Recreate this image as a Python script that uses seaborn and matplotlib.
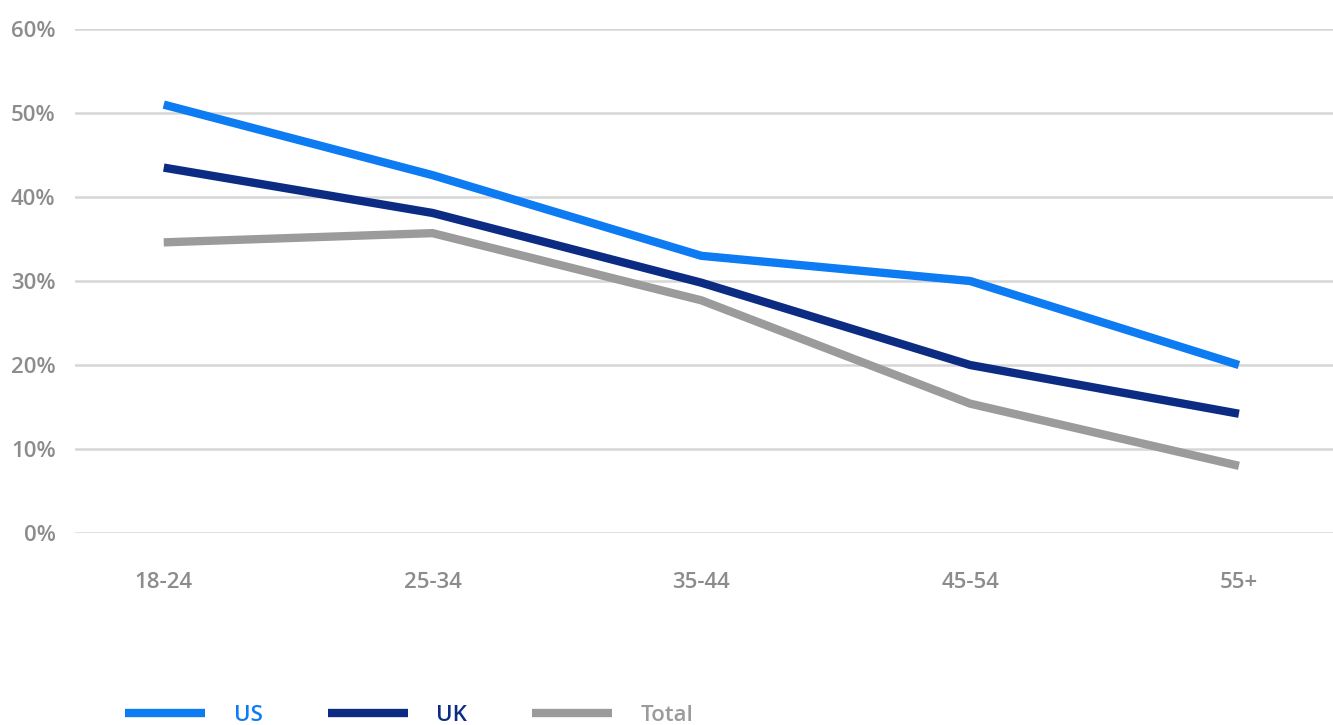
import pandas as pd
import matplotlib
matplotlib.use("Agg")
import matplotlib.pyplot as plt
import seaborn as sns

# data
age_groups = ["18-24", "25-34", "35-44", "45-54", "55+"]
us_vals = [51, 42.6, 33, 30, 20]
uk_vals = [43.5, 38.1, 29.8, 20, 14.2]
total_vals = [34.6, 35.7, 27.7, 15.4, 8]
series = ["US", "UK", "Total"]
colors = {"US": "#0d7bf2", "UK": "#0c2c84", "Total": "#9b9b9b"}
y_ticks = [0, 10, 20, 30, 40, 50, 60]

df = pd.DataFrame({
    "age": age_groups * 3,
    "value": us_vals + uk_vals + total_vals,
    "series": [s for s in series for _ in age_groups],
})

sns.set_theme(style="white")
plt.rcParams["font.family"] = ["Open Sans", "DejaVu Sans"]

fig = plt.figure(figsize=(13.33, 7.25), dpi=100)
ax = fig.add_axes([0.0563, 0.2648, 0.9437, 0.6952])

sns.lineplot(data=df, x="age", y="value", hue="series", palette=colors,
             hue_order=series, linewidth=6, sort=False, ax=ax,
             solid_capstyle="butt", solid_joinstyle="miter")

ax.set_xlim(-0.33, 4.35)
ax.set_ylim(0, 60)
ax.set_yticks(y_ticks)
ax.set_yticklabels([f"{v}%" for v in y_ticks])
ax.yaxis.grid(True, color="#d6d6d6", linewidth=1.8)
ax.set_axisbelow(True)
for sp in ax.spines.values():
    sp.set_visible(False)
ax.set_xlabel("")
ax.set_ylabel("")
ax.tick_params(axis="y", length=0, pad=14, labelsize=16, labelcolor="#8c8c8c")
ax.tick_params(axis="x", length=0, pad=28, labelsize=16, labelcolor="#8c8c8c")
for lbl in ax.get_xticklabels() + ax.get_yticklabels():
    lbl.set_fontweight("semibold")

ax.get_legend().remove()
handles, labels = ax.get_legend_handles_labels()
leg = fig.legend(handles, labels, loc="center left", bbox_to_anchor=(0.094, 0.013),
                 ncol=3, frameon=False, fontsize=16, handlelength=3.6,
                 handletextpad=1.3, columnspacing=2.9, borderpad=0,
                 borderaxespad=0, labelcolor="linecolor")
for t in leg.get_texts():
    t.set_fontweight("semibold")

fig.savefig("out.png", dpi=100, facecolor="white")
